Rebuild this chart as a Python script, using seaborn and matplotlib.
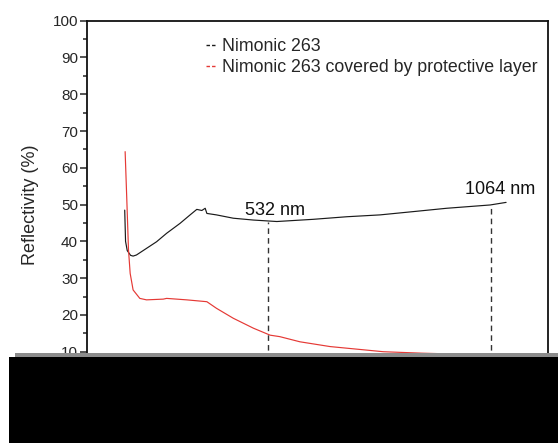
import numpy as np
import pandas as pd
import matplotlib
matplotlib.use("Agg")
import matplotlib.pyplot as plt
from matplotlib.lines import Line2D
from matplotlib.patches import Rectangle
import seaborn as sns

# ---- data ----
nim_wl = [190, 192, 196, 204, 210, 218, 242, 266, 290, 322, 346, 362, 374, 382,
          386, 409, 449, 497, 553, 640, 720, 799, 879, 958, 1062, 1100]
nim_r = [48.5, 40.0, 37.5, 36.2, 36.0, 36.3, 38.1, 39.9, 42.2, 44.9, 47.2, 48.7, 48.4, 49.0,
         47.6, 47.2, 46.3, 45.8, 45.4, 46.0, 46.7, 47.2, 48.1, 49.0, 49.9, 50.6]

prot_wl = [191, 195, 199, 203, 210, 226, 242, 282, 290, 338, 386, 409, 449, 497,
           537, 560, 608, 680, 807, 900, 1000, 1100]
prot_r = [64.4, 51.3, 37.7, 31.3, 26.8, 24.5, 24.1, 24.3, 24.5, 24.1, 23.6, 21.8, 19.1, 16.4,
          14.5, 14.1, 12.7, 11.4, 10.0, 9.6, 9.3, 9.1]

series_names = ["Nimonic 263", "Nimonic 263 covered by protective layer"]
series_colors = ["#1a1a1a", "#e53935"]

mark_wl = [532, 1064]
mark_top = [45.4, 49.9]
mark_labels = ["532 nm", "1064 nm"]
mark_label_pos = [(549, 48.4), (1086, 54.0)]

y_ticks = list(range(0, 101, 10))
x_ticks = list(range(200, 1001, 200))

# ---- plot ----
sns.set_style("ticks")
plt.rcParams["font.family"] = ["Liberation Sans", "DejaVu Sans"]

df = pd.concat([
    pd.DataFrame({"wl": nim_wl, "R": nim_r, "s": series_names[0]}),
    pd.DataFrame({"wl": prot_wl, "R": prot_r, "s": series_names[1]}),
])

fig = plt.figure(figsize=(5.58, 4.43), dpi=100)
ax = fig.add_axes([87 / 558, 1 - 388.5 / 443, (548 - 87) / 558, (388.5 - 20.7) / 443])

sns.lineplot(data=df, x="wl", y="R", hue="s", palette=series_colors,
             hue_order=series_names, sort=False, estimator=None, linewidth=0.85,
             legend=False, ax=ax)

ax.vlines(mark_wl, 0, mark_top, colors="#333333", linewidth=1.0,
          linestyles=(0, (4, 3)))
for (tx, ty), lab in zip(mark_label_pos, mark_labels):
    ax.text(tx, ty, lab, ha="center", va="center", fontsize=13, color="#111111")

ax.set_xlim(100, 1200)
ax.set_ylim(0, 100)
ax.set_yticks(y_ticks)
ax.set_yticks(list(range(5, 100, 10)), minor=True)
ax.set_xticks(x_ticks)
ax.tick_params(axis="y", which="major", length=5, width=1.1, labelsize=11, pad=1.5)
ax.tick_params(axis="y", which="minor", length=3, width=1.1)
ax.tick_params(axis="x", which="major", length=5, width=1.1, labelsize=11)
for sp in ax.spines.values():
    sp.set_linewidth(1.3)
    sp.set_color("#111111")
ax.set_ylabel("Reflectivity (%)", fontsize=13, labelpad=10)
ax.set_xlabel("Wavelength (nm)", fontsize=13)

handles = [Line2D([], [], color=c, linewidth=1.0, linestyle=(0, (2.5, 1.5)))
           for c in series_colors]
ax.legend(handles, series_names, loc="upper left", bbox_to_anchor=(0.258, 0.953),
          frameon=False, fontsize=12.8, handlelength=0.6, handletextpad=0.3,
          borderpad=0, borderaxespad=0, labelspacing=0.25)

# reproduce the occluded band at the bottom of the reference image
fig.add_artist(Rectangle((15 / 558, (443 - 357) / 443), 1, 4 / 443,
                         transform=fig.transFigure, facecolor="#8c8c8c",
                         edgecolor="none", zorder=10))
fig.add_artist(Rectangle((9 / 558, 0), 1, (443 - 357) / 443,
                         transform=fig.transFigure, facecolor="black",
                         edgecolor="none", zorder=10))

fig.savefig("out.png", dpi=100)
